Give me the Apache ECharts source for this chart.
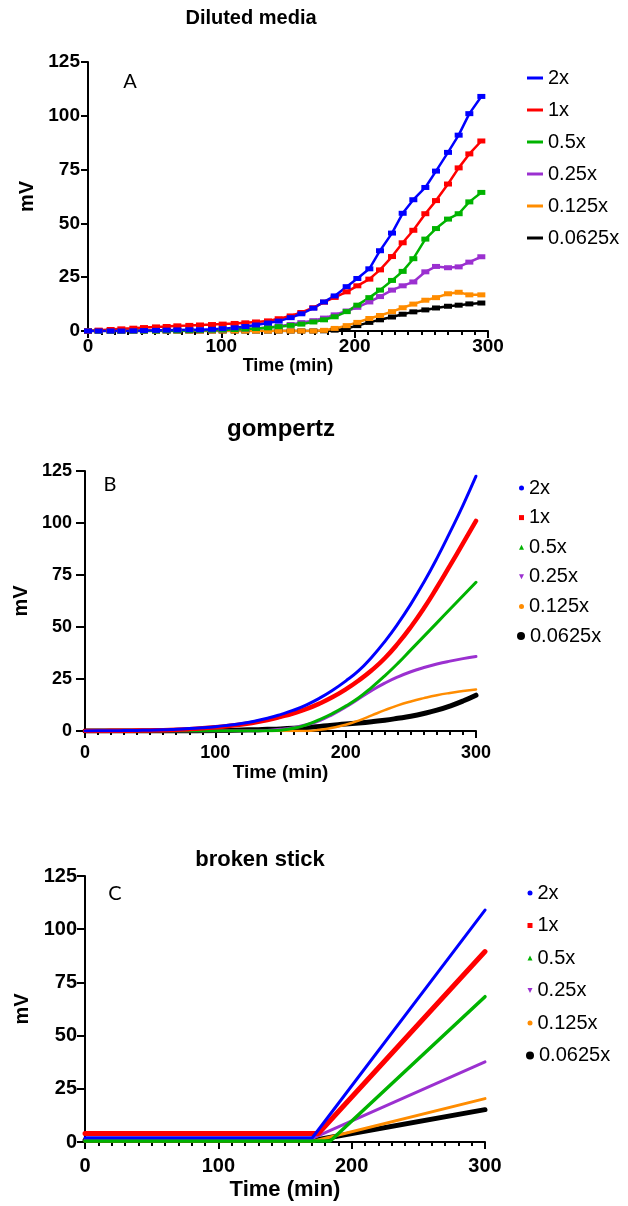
<!DOCTYPE html>
<html>
<head>
<meta charset="utf-8">
<title>Diluted media / gompertz / broken stick</title>
<script src="https://cdn.jsdelivr.net/npm/echarts@6/dist/echarts.min.js"></script>
<style>
  html, body { margin: 0; padding: 0; background: #fff; }
  #chart { width: 628px; height: 1206px; }
</style>
</head>
<body>
<div id="chart"></div>
<script>
const seriesNames = ['2x', '1x', '0.5x', '0.25x', '0.125x', '0.0625x'];
const seriesColors = ['#0000ff', '#ff0000', '#00b300', '#9b30d0', '#ff8c00', '#000000'];

// A: diluted media (measured)
const timeA = [0, 8, 17, 25, 34, 42, 51, 59, 67, 76, 84, 93, 101, 110, 118, 126, 135, 143,
  152, 160, 169, 177, 185, 194, 202, 211, 219, 228, 236, 244, 253, 261, 270, 278, 286, 295];
const blueA = [0, 0, 0, 0, 0.1, 0.2, 0.3, 0.4, 0.5, 0.6, 0.6, 0.8, 1.1, 1.5, 2.1, 2.8, 3.7, 4.6,
  6.2, 8, 10.6, 13.5, 16.3, 20.6, 24.4, 28.9, 37.3, 45.5, 54.7, 61, 66.7, 74.3, 83, 91, 101, 109];
const redA = [0, 0.4, 0.7, 1.0, 1.3, 1.6, 1.9, 2.1, 2.4, 2.6, 2.8, 3.0, 3.2, 3.5, 3.8, 4.2, 4.7, 5.7,
  7.0, 8.6, 10.8, 13.4, 15.6, 18.2, 21, 24.1, 28.4, 34.6, 41, 46.8, 54.5, 60.6, 68.3, 75.8, 82.3, 88.3];
const greenA = [0, 0, 0, 0, 0, 0, 0, 0.1, 0.1, 0.2, 0.3, 0.4, 0.5, 0.7, 0.9, 1.2, 1.5, 2.0,
  2.6, 3.2, 4.2, 5.2, 6.6, 9.0, 12, 15.5, 19, 23.5, 27.7, 33.6, 42.7, 47.6, 52, 54.5, 60, 64.4];
const purpleA = [0, 0, 0, 0, 0, 0, 0.1, 0.1, 0.2, 0.2, 0.3, 0.4, 0.5, 0.7, 0.9, 1.2, 1.6, 2.2,
  3.0, 3.9, 4.8, 6.0, 7.5, 9.3, 11, 13.5, 16, 19, 21, 22.8, 27.5, 30, 29.4, 29.8, 32, 34.5];
const orangeA = [0, 0, 0, 0, 0, 0, 0, 0, 0, 0, 0, 0, 0, 0, 0, 0, 0, 0,
  0, 0, 0, 0.3, 1.2, 2.5, 4, 5.8, 7.2, 9, 10.8, 12.5, 14.3, 15.5, 17.3, 18, 16.8, 16.8];
const blackA = [0, 0, 0, 0, 0, 0, 0, 0, 0, 0, 0, 0, 0, 0, 0, 0, 0, 0,
  0, 0, 0, 0.1, 0.4, 1.2, 2.5, 4, 5.2, 6.5, 7.8, 8.9, 9.8, 10.7, 11.5, 12, 12.6, 13];

// B: gompertz fit
const timeB = [0, 10, 20, 30, 40, 50, 60, 70, 80, 90, 100, 110, 120, 130, 140, 150,
  160, 170, 180, 190, 200, 210, 220, 230, 240, 250, 260, 270, 280, 290, 300];
const blueB = [0, 0.1, 0.1, 0.2, 0.3, 0.4, 0.6, 0.9, 1.2, 1.6, 2.1, 2.8, 3.6, 4.7, 6.1, 7.9,
  10, 12.6, 15.8, 19.6, 24, 29, 35.5, 43, 51.5, 61, 71.5, 83, 95.5, 108.5, 122.5];
const redB = [0, 0, 0.1, 0.1, 0.2, 0.3, 0.4, 0.6, 0.9, 1.3, 1.8, 2.4, 3.1, 4.1, 5.3, 6.8,
  8.5, 10.6, 13.2, 16.3, 20, 24.3, 29.2, 35, 42, 50, 59, 69, 79.5, 90.2, 101];
const greenB = [0, 0, 0, 0, 0, 0, 0, 0, 0, 0, 0, 0, 0, 0, 0.1, 0.4,
  1.3, 3, 5.5, 8.5, 12, 16, 21, 26.5, 32.5, 39, 45.5, 52, 58.5, 65, 71.5];
const purpleB = [0, 0, 0, 0, 0, 0, 0, 0, 0, 0, 0, 0, 0, 0, 0.3, 0.8,
  1.6, 3, 5, 8, 11.5, 15.5, 19.5, 23, 26, 28.5, 30.5, 32.2, 33.6, 34.8, 35.8];
const orangeB = [0, 0, 0, 0, 0, 0, 0, 0, 0, 0, 0, 0, 0, 0, 0, 0,
  0, 0, 0.6, 1.6, 3, 5, 7.5, 10, 12.3, 14.2, 15.8, 17.2, 18.3, 19.2, 20];
const blackB = [0, 0, 0, 0, 0, 0, 0, 0, 0, 0.1, 0.2, 0.3, 0.5, 0.6, 0.8, 1,
  1.3, 1.7, 2.2, 2.8, 3.4, 3.9, 4.5, 5.2, 6.1, 7.1, 8.4, 10, 12, 14.4, 17.2];

// C: broken stick fit -> flat level, break time, value at the last time
const levelC = [2, 4, 0.5, 1, 0.5, 0.8];
const breakC = [170.5, 175, 184, 168, 172, 172];
const endC = [109, 89.5, 68.3, 37.7, 20.4, 15.2];
const timeEndC = 300;

const yTicks = { min: 0, max: 125, interval: 25 };
const xTicks = { min: 0, max: 300, interval: 100 };

const dataA = [blueA, redA, greenA, purpleA, orangeA, blackA];
const dataB = [blueB, redB, greenB, purpleB, orangeB, blackB];
const widthB = [3, 4.5, 3, 3, 2.5, 5];
const widthC = [3, 5, 3.5, 3, 3, 5];
const downTri = 'path://M0,0 L10,0 L5,10 Z';
const iconsBC = ['circle', 'rect', 'triangle', downTri, 'circle', 'circle'];

const FONT = 'Liberation Sans, Arial, sans-serif';

function pairs (times, vals) {
  return times.map((t, i) => [t, vals[i]]);
}

function xAxisFor (idx, labelSize, labelMargin, nameSize, nameGap) {
  return {
    type: 'value', gridIndex: idx,
    min: xTicks.min, max: xTicks.max, interval: xTicks.interval,
    name: 'Time (min)', nameLocation: 'middle', nameGap: nameGap,
    nameTextStyle: { color: '#000', fontWeight: 'bold', fontSize: nameSize, fontFamily: FONT },
    axisLine: { onZero: false, lineStyle: { color: '#000', width: 2 } },
    axisTick: { length: 7, lineStyle: { color: '#000', width: 2 } },
    minorTick: { show: true, splitNumber: 10, length: 4, lineStyle: { color: '#000', width: 2 } },
    splitLine: { show: false },
    minorSplitLine: { show: false },
    axisLabel: { color: '#000', fontWeight: 'bold', fontSize: labelSize, fontFamily: FONT, margin: labelMargin }
  };
}

function yAxisFor (idx, labelSize, labelMargin, nameSize, nameGap, tickLen) {
  return {
    type: 'value', gridIndex: idx,
    min: yTicks.min, max: yTicks.max, interval: yTicks.interval,
    name: 'mV', nameLocation: 'middle', nameGap: nameGap, nameRotate: 90,
    nameTextStyle: { color: '#000', fontWeight: 'bold', fontSize: nameSize, fontFamily: FONT },
    axisLine: { show: true, onZero: false, lineStyle: { color: '#000', width: 2 } },
    axisTick: { show: true, length: tickLen, lineStyle: { color: '#000', width: 2 } },
    splitLine: { show: false },
    axisLabel: { color: '#000', fontWeight: 'bold', fontSize: labelSize, fontFamily: FONT, margin: labelMargin }
  };
}

const series = [];
// black first so the 2x line ends up on top
for (let i = seriesNames.length - 1; i >= 0; i--) {
  const c = seriesColors[i];
  series.push({
    name: seriesNames[i], type: 'line', xAxisIndex: 0, yAxisIndex: 0,
    data: pairs(timeA, dataA[i]),
    symbol: 'rect', symbolSize: [8, 5],
    lineStyle: { color: c, width: 2.5 }, itemStyle: { color: c }
  });
}
for (let i = seriesNames.length - 1; i >= 0; i--) {
  const c = seriesColors[i];
  series.push({
    name: seriesNames[i], type: 'line', xAxisIndex: 1, yAxisIndex: 1,
    data: pairs(timeB, dataB[i]), smooth: true,
    symbol: 'none',
    lineStyle: { color: c, width: widthB[i], cap: 'round' }, itemStyle: { color: c }
  });
}
for (let i = seriesNames.length - 1; i >= 0; i--) {
  const c = seriesColors[i];
  series.push({
    name: seriesNames[i], type: 'line', xAxisIndex: 2, yAxisIndex: 2,
    data: [[0, levelC[i]], [breakC[i], levelC[i]], [timeEndC, endC[i]]],
    symbol: 'none',
    lineStyle: { color: c, width: widthC[i], cap: 'round' }, itemStyle: { color: c }
  });
}

function legendText () {
  return { color: '#000', fontSize: 20, lineHeight: 20, fontFamily: FONT };
}

const legends = [
  {
    orient: 'vertical', left: 527, top: 68, itemGap: 12, padding: 0,
    itemWidth: 16, itemHeight: 3, itemTextGap: 10,
    data: seriesNames.map(n => ({ name: n, icon: 'rect' })),
    textStyle: legendText(), selectedMode: false
  },
  {
    orient: 'vertical', left: 519, top: 478, itemGap: 9.6, padding: 0,
    itemWidth: 5, itemHeight: 5, itemTextGap: 17,
    data: seriesNames.slice(0, 5).map((n, i) => ({ name: n, icon: iconsBC[i] })),
    textStyle: legendText(), selectedMode: false
  },
  {
    orient: 'vertical', left: 517, top: 478 + 5 * 29.6, itemGap: 9.6, padding: 0,
    itemWidth: 8, itemHeight: 8, itemTextGap: 16,
    data: [{ name: seriesNames[5], icon: 'circle' }],
    textStyle: legendText(), selectedMode: false
  },
  {
    orient: 'vertical', left: 527.5, top: 883, itemGap: 12.5, padding: 0,
    itemWidth: 5, itemHeight: 5, itemTextGap: 17,
    data: seriesNames.slice(0, 5).map((n, i) => ({ name: n, icon: iconsBC[i] })),
    textStyle: legendText(), selectedMode: false
  },
  {
    orient: 'vertical', left: 526, top: 883 + 5 * 32.5, itemGap: 12.5, padding: 0,
    itemWidth: 8, itemHeight: 8, itemTextGap: 15.5,
    data: [{ name: seriesNames[5], icon: 'circle' }],
    textStyle: legendText(), selectedMode: false
  }
];

function label (text, x, y, font) {
  return {
    type: 'text', x: x, y: y,
    style: { text: text, font: font, fill: '#000', align: 'center', verticalAlign: 'middle' }
  };
}

const myChart = echarts.init(document.getElementById('chart'));
myChart.setOption({
  animation: false,
  backgroundColor: '#fff',
  grid: [
    { left: 88, top: 62, width: 400, height: 269 },
    { left: 85, top: 471, width: 391, height: 260 },
    { left: 85, top: 876, width: 400, height: 266 }
  ],
  xAxis: [
    xAxisFor(0, 19, 6, 18, 16),
    xAxisFor(1, 18, 13, 19, 30),
    xAxisFor(2, 20, 14, 22, 37)
  ],
  yAxis: [
    yAxisFor(0, 19, 8, 20, 45, 7),
    yAxisFor(1, 18, 13, 20, 54, 9),
    yAxisFor(2, 20, 8, 20, 51, 8)
  ],
  legend: legends,
  graphic: [
    label('Diluted media', 251, 18, 'bold 20px ' + FONT),
    label('gompertz', 281, 429, 'bold 24px ' + FONT),
    label('broken stick', 260, 860, 'bold 22px ' + FONT),
    label('A', 130, 82, '20px Lato, sans-serif'),
    label('B', 110, 485, '20px Lato, sans-serif'),
    label('C', 115, 894, '20px Lato, sans-serif')
  ],
  series: series
});
</script>
</body>
</html>
